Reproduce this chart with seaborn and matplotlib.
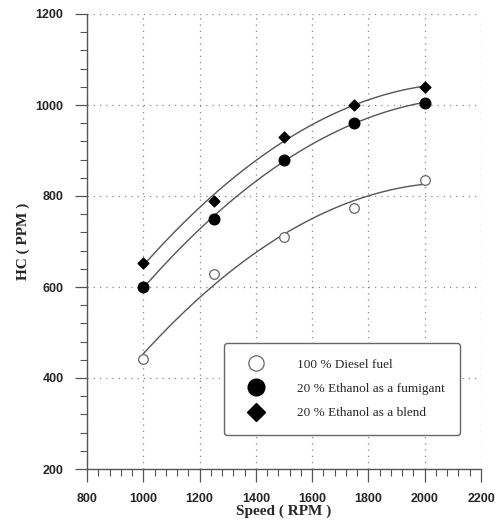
import numpy as np
import pandas as pd
import seaborn as sns
import matplotlib.pyplot as plt
from matplotlib.lines import Line2D
from matplotlib.ticker import MultipleLocator

speed = [1000, 1250, 1500, 1750, 2000]
diesel = [442, 628, 710, 774, 835]
fumigant = [600, 750, 880, 960, 1005]
blend = [652, 790, 930, 1000, 1040]
labels = ["100 % Diesel fuel", "20 % Ethanol as a fumigant", "20 % Ethanol as a blend"]

sns.set_theme(style="ticks")
plt.rcParams['font.family'] = ['Liberation Sans', 'DejaVu Sans']

fig = plt.figure(figsize=(4.96, 5.29), dpi=100)
ax = fig.add_axes([87/496, 1-469/529, (481-87)/496, (469-14)/529])

line_color = '#555555'
series = [
    (diesel, 'o', dict(s=48, facecolors='white', edgecolors='#666666', linewidths=0.9)),
    (fumigant, 'o', dict(s=58, facecolors='black', edgecolors='black')),
    (blend, 'D', dict(s=30, facecolors='black', edgecolors='black')),
]
for vals, mk, skw in series:
    df = pd.DataFrame({'x': speed, 'y': vals})
    sns.regplot(data=df, x='x', y='y', order=2, ci=None, ax=ax, marker=mk,
                scatter_kws=dict(zorder=4, alpha=1, **skw),
                line_kws=dict(color=line_color, lw=1.0, zorder=3))

ax.set_xlim(800, 2200)
ax.set_ylim(200, 1200)
ax.xaxis.set_major_locator(MultipleLocator(200))
ax.xaxis.set_minor_locator(MultipleLocator(40))
ax.yaxis.set_major_locator(MultipleLocator(200))
ax.yaxis.set_minor_locator(MultipleLocator(40))
ax.grid(True, which='major', linestyle=(0, (1, 4)), color='#888888', lw=0.9)
for s in ['top', 'right']:
    ax.spines[s].set_visible(False)
for s in ['left', 'bottom']:
    ax.spines[s].set_color('#555555')
    ax.spines[s].set_linewidth(1.0)
ax.tick_params(which='major', length=9, width=0.9, color='#555555', direction='out')
ax.tick_params(which='minor', length=5, width=0.8, color='#555555', direction='out')
ax.tick_params(axis='both', labelsize=9, pad=8)
for lab in ax.get_xticklabels() + ax.get_yticklabels():
    lab.set_fontweight('bold')
    lab.set_fontsize(9)

ax.set_xlabel("Speed ( RPM )", family='Liberation Serif', fontsize=11, fontweight='bold', labelpad=0)
ax.set_ylabel("HC ( PPM )", family='Liberation Serif', fontsize=11, fontweight='bold', labelpad=4)

handles = [
    Line2D([], [], marker='o', ls='none', markersize=11, markerfacecolor='white', markeredgecolor='#666666', markeredgewidth=0.9),
    Line2D([], [], marker='o', ls='none', markersize=12, color='black'),
    Line2D([], [], marker='D', ls='none', markersize=9, color='black'),
]
leg = ax.legend(handles, labels, loc='lower left', bbox_to_anchor=(137/394, 34/455, 236/394, 112/455),
                mode='expand', prop=dict(family='Liberation Serif', size=9.5),
                frameon=True, fancybox=True, borderpad=1.2, labelspacing=0.9,
                handletextpad=1.8, borderaxespad=0, handlelength=2.5)
fr = leg.get_frame()
fr.set_edgecolor('#666666')
fr.set_linewidth(1.0)
fr.set_facecolor('white')
fr.set_alpha(1)

fig.savefig('out.png', dpi=100)
